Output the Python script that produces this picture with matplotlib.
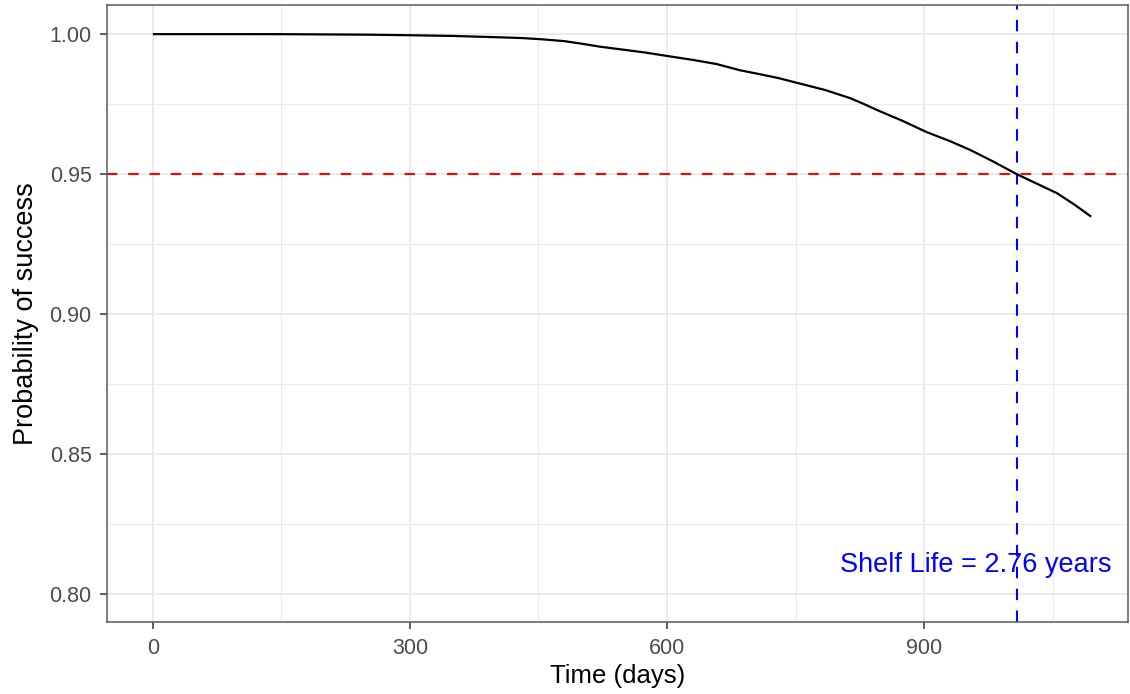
import matplotlib
matplotlib.use("Agg")
import matplotlib.pyplot as plt
from matplotlib.ticker import MultipleLocator

plt.rcParams['font.family'] = ['Liberation Sans', 'DejaVu Sans']

# Data
time_days = [0, 150, 250, 300, 350, 400, 430, 452, 480, 500, 522, 550, 575,
             600, 630, 658, 685, 708, 730, 753, 785, 814, 830, 845, 875, 903,
             930, 954, 980, 1008, 1030, 1055, 1075, 1095]
prob_success = [1.0, 0.99998, 0.9998, 0.9996, 0.99935, 0.9989, 0.9986, 0.9982,
                0.9975, 0.9966, 0.9955, 0.9944, 0.9934, 0.9922, 0.9908,
                0.9893, 0.9871, 0.9857, 0.9843, 0.9825, 0.9800, 0.9771,
                0.9750, 0.9729, 0.9690, 0.9650, 0.9618, 0.9586, 0.9546,
                0.9500, 0.9468, 0.9432, 0.9392, 0.9348]
threshold = 0.95
shelf_life_days = 1008
shelf_life_years = 2.76
label_text = f"Shelf Life = {shelf_life_years:.2f} years"
label_x = 960
label_y = 0.8105
x_ticks = [0, 300, 600, 900]
y_ticks = [0.80, 0.85, 0.90, 0.95, 1.00]

W, H = 1130, 694
fig = plt.figure(figsize=(W / 100, H / 100), dpi=100)
ax = fig.add_axes([107 / W, (H - 622) / H, (1128 - 107) / W, (622 - 5) / H])

grid_col = '#EBEBEB'
ax.set_xlim(-53.5, 1138)
ax.set_ylim(0.79, 1.0104)
ax.xaxis.set_minor_locator(MultipleLocator(150))
ax.yaxis.set_minor_locator(MultipleLocator(0.025))
ax.set_axisbelow(True)

ax.plot(time_days, prob_success, color='black', lw=1.6, solid_joinstyle='round',
        solid_capstyle='butt', zorder=3)
ax.axhline(threshold, color='#FF0000', lw=1.5, dashes=(5, 5.2), zorder=2)
ax.axvline(shelf_life_days, color='#0000FF', lw=1.5, dashes=(5.5, 5), zorder=2)
ax.text(label_x, label_y, label_text, color='#0000FF', fontsize=19.5,
        ha='center', va='center', zorder=4)

ax.set_xticks(x_ticks)
ax.set_yticks(y_ticks)
ax.set_yticklabels([f"{v:.2f}" for v in y_ticks])
ax.grid(True, which='major', color=grid_col, lw=1.4)
ax.grid(True, which='minor', color=grid_col, lw=0.7)
ax.tick_params(which='major', length=5, width=1.1, color='#333333',
               labelcolor='#4D4D4D', labelsize=15.5)
ax.tick_params(axis='x', which='major', pad=6.3)
ax.tick_params(axis='y', which='major', pad=6)
ax.tick_params(which='minor', length=0)
for s in ax.spines.values():
    s.set_color('#5A5A5A')
    s.set_linewidth(1.1)

ax.set_xlabel('Time (days)', fontsize=18.5, color='black', labelpad=4)
ax.set_ylabel('Probability of success', fontsize=19.5, color='black')
ax.yaxis.set_label_coords((39 - 107) / (1128 - 107), 0.5)

fig.savefig('out.png', dpi=100, facecolor='white')
